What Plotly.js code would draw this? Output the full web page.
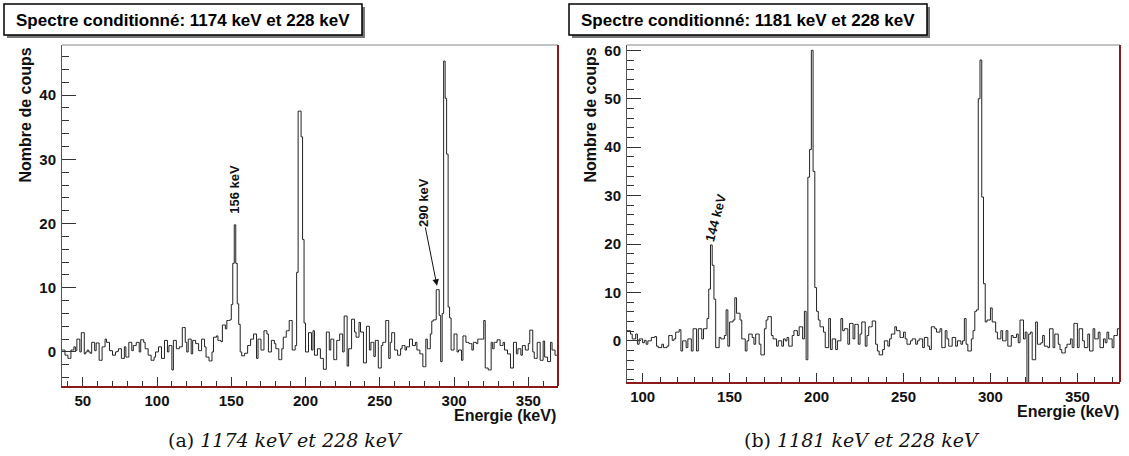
<!DOCTYPE html>
<html><head><meta charset="utf-8">
<script src="https://cdn.plot.ly/plotly-3.0.1.min.js"></script>
<style>html,body{margin:0;padding:0;background:#fff;}#chart{width:1129px;height:456px;}</style>
</head><body><div id="chart"></div>
<script>
// ---- data (1 keV bins) ----
const binWidthKeV = 1;
const leftStartKeV = 36;
const leftCounts = [
 0.3,0.3,-0.5,-0.5,-1,-1,0.3,0.3,0.8,0.2,
 2,2,0,3,3,-0.3,0,0.3,0,-0.2,
 1.5,1.5,0.2,1.4,1.4,-1.3,-1.3,0.8,0.8,2,
 1.5,1.5,0.2,0.2,-0.5,-0.5,0,0.1,0.5,0.5,
 -1,-1,0.8,-0.8,-0.8,1.5,1.5,0.2,1,1,
 1.5,1.5,0,1.9,1.9,1.5,0.5,0.5,-0.5,-0.5,
 -1.3,-1.3,-0.8,0,0,0.8,0.8,-1,-1,1.8,
 1.8,0,1,1,-2.8,1.8,1.8,0.5,0.5,0.8,
 0.8,3.8,3.8,1.5,0,2,2,-0.3,1.8,1.8,
 1.3,1.3,0.2,0.2,2,2,0.8,-0.8,-0.8,-1.4,
 -1.4,0,2.3,2.3,2.5,1.8,1.8,1.6,4.2,4.2,
 3.6,4.9,4.9,5,7.4,13.8,19.8,13.8,7.5,4.3,
 0,-0.6,-0.6,-0.2,-0.2,1,1,2,2,2.8,
 2.8,-1,2,2,0.3,0.3,3.3,3.3,2.8,0,
 0,1.8,1.8,1.3,0.5,0.5,-1.2,-1.2,0.5,2.3,
 2.3,3.3,3.3,4.9,4.9,0.3,0.3,1,12.4,37.5,
 37.5,33.5,17.5,4.5,0,0,3,3,0.3,3.3,
 -0.5,-0.5,0.5,0.5,-1,-1,-2.7,-2.7,3.1,3.1,
 0.3,2,2,-1.2,-1.2,1.8,1.8,2.8,2.8,0,
 5.6,5.6,-2.2,0.5,0.5,5.1,5.1,3.1,2.3,2.3,
 4.6,3.1,3.1,-1.7,-1.7,4,4,0.3,1.5,1.5,
 -0.7,1.8,1.8,-2.5,-2.5,1,1.5,1.5,4.9,4.9,
 -1,1.5,3,3,0.3,0.3,-0.5,-0.5,0.5,1,
 1,0.3,0.8,0.8,2,2,1,1,1.5,0.3,
 0.3,-0.3,-0.3,-2.3,-2.3,2,0.5,0.5,2.8,4.8,
 5,5,9.7,9.7,5.7,-1.5,6,45.3,39.5,30.8,
 7,5.3,0.3,0.3,2.8,2.8,0,0.3,0.3,-1.3,
 2.5,2.5,1.5,1.5,1.3,1.3,0.3,1.5,1.5,1.3,
 2,2,2,2,4.9,-2.5,-2.5,-2.8,-2.8,1.5,
 0.5,1.5,1.5,1.9,1.9,1,1,1.5,0.3,0.3,
 -0.3,-0.3,-2.5,-2.5,1.5,1.5,-0.3,0.5,0.5,-0.5,
 1,1,0.3,0.3,1.3,3.4,3.4,0,-1,-1,
 1.5,1.5,-1.3,-1.3,1.7,-0.8,-0.8,-1.5,-1.5,1.5,
 0.3,0.3,-0.5,-0.5
];
const rightStartKeV = 91;
const rightCounts = [
 2.1,2.1,1.4,0.4,0.4,1.4,-0.7,0.4,0.4,-0.4,
 0.1,-0.7,0,0,0.7,0.7,0.9,-1.1,-1.4,-1.4,
 -0.7,-1.4,-1.4,-1.1,1.1,1.1,0.1,0.4,1.8,1.8,
 2.3,-2.1,0,0,-1.4,0.4,0.4,-2.1,2.5,2.5,
 -2.1,2.5,2.5,0.4,2.5,2.5,4.6,10.7,19.8,15.6,
 8.6,-1.4,-1.4,0.7,0.4,0.4,1.1,6.4,-1.1,3.9,
 3.9,4.3,8.9,5.7,5.7,4.3,0.4,0.4,-2.1,0,
 1.4,1.4,0.7,-0.7,1.4,1.4,-0.7,-2.9,-2.9,2.5,
 4.3,5,5,1.1,0.4,0.4,-1.1,0,0,-1.1,
 0.4,0,0.7,-1.1,-1.1,1.1,2.1,2.1,1.1,2.9,
 2.9,0.4,6.1,-3.9,33.8,39.5,60,35,11,6.1,
 4.3,2.9,2.9,1.8,-1.4,-1.4,4.6,-1.8,0.4,0.4,
 -1.8,0,0,4.6,2.1,2.5,2.5,-0.7,3.6,3.6,
 0.4,3.4,3.4,-0.7,1.4,3.9,3.9,-1.1,1.1,2.9,
 2.9,4.1,4.1,-0.7,-2.1,-2.9,-2.9,-1.8,0,0,
 -1.1,0.4,1.4,1.4,2.9,2.1,2.1,0.7,0.7,1.8,
 0.4,-0.7,-0.7,0,0.4,0.4,-0.7,0,0.4,0.4,
 -1.4,0.7,0.7,-1.1,-1.8,2.9,2.9,2.5,1.8,1.8,
 2.5,-1.4,-1.4,2.1,0.4,-1.1,-1.1,0.7,0.7,-1.1,
 0,0,-0.7,0,4.6,-0.7,-2.1,-2.1,0.4,2.1,
 6.1,6.4,50,58,29.7,11.8,3.9,4.3,4.3,6.8,
 3.9,3.9,1.8,0.4,0.4,2.1,0,0,2.1,-1.1,
 -1.1,1.1,0.7,0.7,1.4,-0.4,4.3,4.3,0.4,1.8,
 -12,1.4,1.8,-3.9,-3.9,3.9,-0.7,-0.7,-0.4,1.1,
 -1.1,-1.1,-1.4,2.5,2.5,-1.4,1.4,1.4,-0.7,-1.8,
 -2.5,-2.5,-1.4,-0.7,-0.7,0.4,-1.4,3.6,3.6,-1.4,
 2.5,2.5,0,-1.4,-1.4,1.4,-2.1,-2.1,2.5,0.4,
 0.4,1.8,-1.4,-1.4,0.4,-0.4,1.8,0.4,0.4,-1.4,
 1.1,1.1,2.5,2.5
];
// ---- texts ----
const leftTitle = "Spectre conditionné: 1174 keV et 228 keV";
const rightTitle = "Spectre conditionné: 1181 keV et 228 keV";
const yTitle = "Nombre de coups";
const xTitle = "Energie (keV)";
const leftCaption = "(a) <i>1174 keV et 228 keV</i>";
const rightCaption = "(b) <i>1181 keV et 228 keV</i>";
const leftPeakLabels = [{text:"156 keV", e:152, c:25.3}, {text:"290 keV", e:279.5, c:23.3}];
const leftArrow = {tailE:280.5, tailC:19.6, headE:288.5, headC:10.3};
const rightPeakLabels = [{text:"144 keV", e:142, c:25.5}];

function steps(start, counts){
  const x=[], y=[];
  counts.forEach((v,i)=>{ x.push(start+i*binWidthKeV); y.push(v); });
  x.push(start+counts.length*binWidthKeV); y.push(counts[counts.length-1]);
  return {x, y};
}
const L = steps(leftStartKeV, leftCounts);
const R = steps(rightStartKeV, rightCounts);

const W=1129, H=456;
const px = v=>v/W, py = v=>1-v/H;
const FONT = "Liberation Sans, Arial, sans-serif";
const tickFont = {family:FONT, size:15, color:'#111', weight:'bold'};
const lineStyle = {color:'#222', width:1, shape:'hv'};

const traces = [
  {x:L.x, y:L.y, type:'scatter', mode:'lines', line:lineStyle, xaxis:'x', yaxis:'y', hoverinfo:'skip'},
  {x:R.x, y:R.y, type:'scatter', mode:'lines', line:lineStyle, xaxis:'x2', yaxis:'y2', hoverinfo:'skip'}
];

function xAx(domain, range, anchor){
  return {domain, range, anchor, tick0:0, dtick:50, ticks:'inside', ticklen:9, tickwidth:1, tickcolor:'#333',
    showline:true, linecolor:'#8b1a1a', linewidth:2, showgrid:false, zeroline:false, tickfont:tickFont,
    minor:{tick0:0, dtick:10, ticks:'inside', ticklen:5, tickwidth:1, tickcolor:'#333', showgrid:false},
    ticklabelstandoff:0, fixedrange:true};
}
function yAx(domain, range, anchor){
  return {domain, range, anchor, tick0:0, dtick:10, ticks:'inside', ticklen:14, tickwidth:1, tickcolor:'#333',
    showline:true, linecolor:'#555', linewidth:1, showgrid:false, zeroline:false, tickfont:tickFont,
    minor:{tick0:0, dtick:2, ticks:'inside', ticklen:7, tickwidth:1, tickcolor:'#333', showgrid:false},
    ticklabelstandoff:2, fixedrange:true};
}

const shapes = [];
const annotations = [];
function frame(xa, ya){
  shapes.push({type:'line', xref:xa+' domain', yref:ya+' domain', x0:0, x1:1, y0:1, y1:1, line:{color:'#888', width:1}});
  shapes.push({type:'line', xref:xa+' domain', yref:ya+' domain', x0:1, x1:1, y0:0, y1:1, line:{color:'#8b1a1a', width:2}});
}
frame('x','y'); frame('x2','y2');
function titleBox(x0,x1,text){
  shapes.push({type:'rect', xref:'paper', yref:'paper', x0:px(x0+3), x1:px(x1+3), y0:py(38), y1:py(7), fillcolor:'#777', line:{width:0}, layer:'above'});
  shapes.push({type:'rect', xref:'paper', yref:'paper', x0:px(x0), x1:px(x1), y0:py(35), y1:py(4), fillcolor:'#fff', line:{color:'#000', width:1.5}, layer:'above'});
  annotations.push({xref:'paper', yref:'paper', x:px((x0+x1)/2), y:py(20), text:text, showarrow:false,
    font:{family:FONT, size:17, color:'#000', weight:'bold'}, xanchor:'center', yanchor:'middle'});
}
titleBox(4,362,leftTitle); titleBox(569,927,rightTitle);

function axisTitles(xLeftPx, plotRightPx, xTitleY){
  annotations.push({xref:'paper', yref:'paper', x:px(xLeftPx), y:py(46), text:yTitle, textangle:-90, showarrow:false,
    font:{family:FONT, size:16, color:'#111', weight:'bold'}, xanchor:'center', yanchor:'top'});
  annotations.push({xref:'paper', yref:'paper', x:px(plotRightPx), y:py(xTitleY), text:xTitle, showarrow:false,
    font:{family:FONT, size:16, color:'#111', weight:'bold'}, xanchor:'right', yanchor:'middle'});
}
axisTitles(25,558,415); axisTitles(590,1121,411);

leftPeakLabels.forEach(p=>annotations.push({xref:'x', yref:'y', x:p.e, y:p.c, text:p.text, textangle:-90, showarrow:false,
  font:{family:FONT, size:13, color:'#111', weight:'bold'}}));
rightPeakLabels.forEach(p=>annotations.push({xref:'x2', yref:'y2', x:p.e, y:p.c, text:p.text, textangle:-75, showarrow:false,
  font:{family:FONT, size:13, color:'#111', weight:'bold'}}));
annotations.push({xref:'x', yref:'y', axref:'x', ayref:'y', x:leftArrow.headE, y:leftArrow.headC, ax:leftArrow.tailE, ay:leftArrow.tailC,
  text:'', showarrow:true, arrowhead:2, arrowsize:1.3, arrowwidth:1, arrowcolor:'#111'});

annotations.push({xref:'paper', yref:'paper', x:px(285), y:py(440), text:leftCaption, showarrow:false,
  font:{family:'DejaVu Serif, Liberation Serif, serif', size:19, color:'#111'}, xanchor:'center', yanchor:'middle'});
annotations.push({xref:'paper', yref:'paper', x:px(862), y:py(440), text:rightCaption, showarrow:false,
  font:{family:'DejaVu Serif, Liberation Serif, serif', size:19, color:'#111'}, xanchor:'center', yanchor:'middle'});

const layout = {
  width:W, height:H, margin:{l:0,r:0,t:0,b:0}, paper_bgcolor:'#fff', plot_bgcolor:'#fff', showlegend:false,
  xaxis:xAx([px(62),px(558)],[36,370],'y'),
  yaxis:yAx([py(386),py(45)],[-5.3,47.8],'x'),
  xaxis2:xAx([px(627),px(1120)],[91,374.5],'y2'),
  yaxis2:yAx([py(382),py(45)],[-8.5,61.1],'x2'),
  shapes, annotations
};
Plotly.newPlot('chart', traces, layout, {displayModeBar:false, staticPlot:true});
</script></body></html>
